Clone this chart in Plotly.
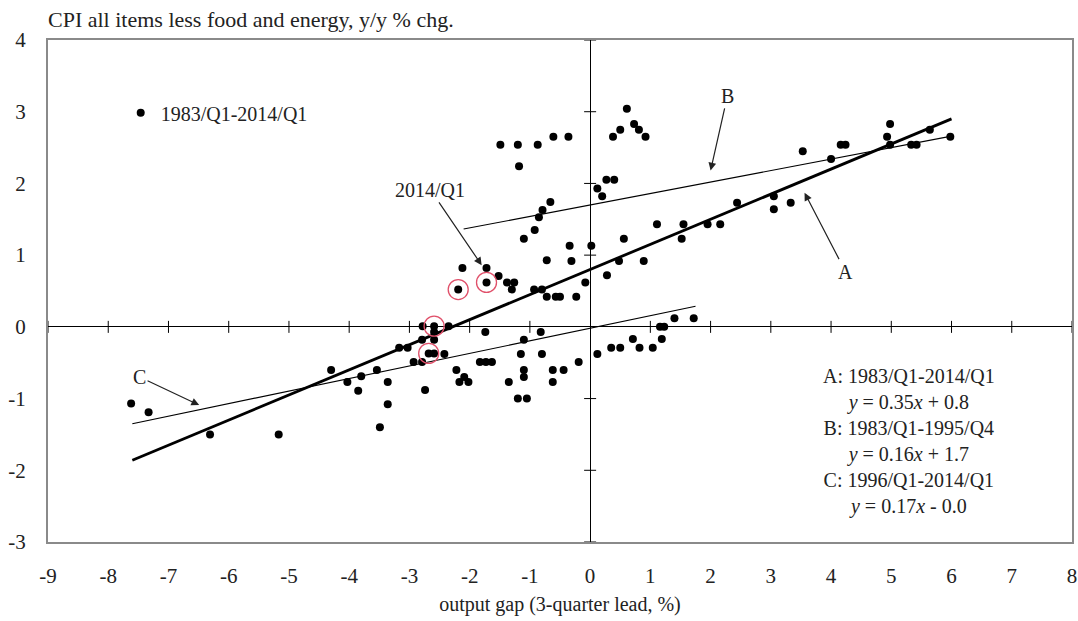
import plotly.graph_objects as go

# ---- data ----
gap = [-0.36, 0.61, 0.50, 0.38, 0.73, 0.81, 0.92, 0.27, 0.40, 0.12, 0.20,
       -0.34, -0.31, 0.02, -0.50, -0.23, -0.08, 0.28, 0.48, 0.56, 0.89, 1.11,
       1.52, 1.55, 1.95, 2.16, 2.44, 3.05, 3.05, 3.33, 3.53, 4.00, 4.16, 4.24,
       4.93, 4.98, 4.98, 5.33, 5.42, 5.64, 5.98,
       1.40, 1.72, 1.16, 1.23, 0.71, 1.19, 0.12, 0.35, 0.50, 0.82, 1.04,
       -1.49, -1.20, -0.87, -0.61, -1.18, -0.66, -0.79, -0.85, -0.92, -1.10, -0.72,
       -2.12, -1.72, -1.52, -1.38, -1.26, -1.72, -1.30, -2.19, -0.93, -0.80, -0.72, -0.57,
       -2.78, -2.59, -2.35, -2.59, -2.79, -2.59, -3.17, -3.03, -2.68, -2.59, -2.42,
       -2.93, -2.79, -3.54, -3.36, -3.36, -2.74, -2.22, -2.17, -2.09, -2.02, -1.83,
       -1.73, -1.63, -1.74, -1.35, -1.15, -1.10, -1.10, -1.10, -1.20, -1.05, -0.82,
       -0.80, -0.62, -0.62, -0.44, -0.19,
       -7.62, -7.33, -6.31, -5.17, -4.30, -4.03, -3.85, -3.80, -3.49]
cpi = [2.65, 3.04, 2.75, 2.65, 2.83, 2.75, 2.65, 2.05, 2.05, 1.93, 1.82,
       1.13, 0.92, 1.13, 0.42, 0.42, 0.62, 0.72, 0.92, 1.23, 0.92, 1.43,
       1.23, 1.43, 1.43, 1.43, 1.73, 1.82, 1.64, 1.73, 2.45, 2.34, 2.54, 2.54,
       2.65, 2.83, 2.54, 2.54, 2.54, 2.75, 2.65,
       0.12, 0.12, 0.00, 0.00, -0.17, -0.17, -0.38, -0.29, -0.29, -0.29, -0.29,
       2.54, 2.54, 2.54, 2.65, 2.24, 1.74, 1.63, 1.53, 1.35, 1.23, 0.93,
       0.82, 0.82, 0.71, 0.62, 0.62, 0.62, 0.52, 0.52, 0.52, 0.52, 0.42, 0.42,
       0.01, 0.01, 0.01, -0.07, -0.18, -0.18, -0.29, -0.29, -0.37, -0.37, -0.38,
       -0.49, -0.49, -0.60, -0.77, -1.08, -0.88, -0.60, -0.77, -0.70, -0.77, -0.49,
       -0.49, -0.49, -0.07, -0.77, -0.38, -0.18, -0.60, -0.70, -1.00, -1.00, -0.07,
       -0.38, -0.60, -0.77, -0.60, -0.49,
       -1.07, -1.19, -1.50, -1.50, -0.60, -0.77, -0.89, -0.69, -1.40]

# recent observations marked with red circles
recent_gap = [-2.19, -1.72, -2.59, -2.68]
recent_cpi = [0.52, 0.62, 0.01, -0.37]

# regression lines: name, slope, intercept, x-start, x-end
fit_names = ["A", "B", "C"]
fit_slope = [0.35, 0.16, 0.175]
fit_icpt = [0.80, 1.70, -0.02]
fit_x0 = [-7.6, -2.1, -7.6]
fit_x1 = [6.0, 6.0, 1.75]
fit_width = [2.8, 1.1, 1.1]

x_ticks = list(range(-9, 9))
x_tick_labels = [str(v) for v in x_ticks]
y_ticks = list(range(-3, 5))
y_tick_labels = [str(v) for v in y_ticks]

FONT = "Liberation Serif, Times New Roman, serif"
TXT = "#222222"

fig = go.Figure()

fig.add_trace(go.Scatter(
    x=gap, y=cpi, mode="markers", name="1983/Q1-2014/Q1",
    marker=dict(color="black", size=8), showlegend=True))

for n, s, b, x0, x1, w in zip(fit_names, fit_slope, fit_icpt, fit_x0, fit_x1, fit_width):
    fig.add_trace(go.Scatter(
        x=[x0, x1], y=[s * x0 + b, s * x1 + b], mode="lines",
        line=dict(color="black", width=w), showlegend=False, name=n,
        hoverinfo="skip"))

fig.add_trace(go.Scatter(
    x=recent_gap, y=recent_cpi, mode="markers", showlegend=False,
    marker=dict(symbol="circle-open", size=20, color="#e0506a",
                line=dict(width=1.3, color="#e0506a")),
    hoverinfo="skip"))

# tick marks on the zero axes
shapes = []
for t in x_ticks:
    if t == 0:
        continue
    shapes.append(dict(type="line", xref="x", yref="y", x0=t, x1=t,
                       ysizemode="pixel", yanchor=0, y0=-6, y1=6,
                       line=dict(color="black", width=1)))
for t in y_ticks:
    if t == 0:
        continue
    shapes.append(dict(type="line", xref="x", yref="y", y0=t, y1=t,
                       xsizemode="pixel", xanchor=0, x0=-6, x1=6,
                       line=dict(color="black", width=1)))

annotations = [
    dict(text="CPI all items less food and energy, y/y % chg.",
         xref="paper", yref="paper", x=0, y=1.0, xanchor="left", yanchor="bottom",
         xshift=-2, yshift=6, showarrow=False, font=dict(family=FONT, size=22, color=TXT)),
    dict(text="B", x=2.0, y=2.18, ax=2.28, ay=3.22, axref="x", ayref="y",
         showarrow=True, arrowhead=2, arrowsize=1.3, arrowwidth=1.2, arrowcolor="#222",
         font=dict(family=FONT, size=20, color=TXT)),
    dict(text="A", x=3.56, y=1.87, ax=4.24, ay=0.77, axref="x", ayref="y",
         showarrow=True, arrowhead=2, arrowsize=1.3, arrowwidth=1.2, arrowcolor="#222",
         font=dict(family=FONT, size=20, color=TXT)),
    dict(text="2014/Q1", x=-1.80, y=0.86, ax=-2.65, ay=1.91, axref="x", ayref="y",
         showarrow=True, arrowhead=2, arrowsize=1.3, arrowwidth=1.2, arrowcolor="#222",
         font=dict(family=FONT, size=20, color=TXT)),
    dict(text="C", x=-6.49, y=-1.09, ax=-7.48, ay=-0.70, axref="x", ayref="y",
         showarrow=True, arrowhead=2, arrowsize=1.3, arrowwidth=1.2, arrowcolor="#222",
         font=dict(family=FONT, size=20, color=TXT)),
    dict(text=("A: 1983/Q1-2014/Q1<br><i>y</i> = 0.35<i>x</i> + 0.8<br>"
               "B: 1983/Q1-1995/Q4<br><i>y</i> = 0.16<i>x</i> + 1.7<br>"
               "C: 1996/Q1-2014/Q1<br><i>y</i> = 0.17<i>x</i> - 0.0"),
         x=5.3, y=-1.6, xref="x", yref="y", showarrow=False, align="center",
         font=dict(family=FONT, size=20, color=TXT)),
]

fig.update_layout(
    width=1078, height=621,
    margin=dict(l=48, r=6, t=40, b=79, autoexpand=False),
    paper_bgcolor="white", plot_bgcolor="white",
    font=dict(family=FONT, size=20, color=TXT),
    showlegend=True,
    legend=dict(x=0.071, y=0.855, xanchor="left", yanchor="middle",
                bgcolor="rgba(0,0,0,0)", font=dict(family=FONT, size=20, color=TXT),
                itemwidth=30),
    shapes=shapes,
    annotations=annotations,
    xaxis=dict(range=[-9, 8], tickmode="array", tickvals=x_ticks, ticktext=x_tick_labels,
               ticks="", showgrid=False, automargin=False,
               zeroline=True, zerolinecolor="black", zerolinewidth=1,
               showline=True, linecolor="#8a8a8a", linewidth=2, mirror=True,
               ticklabelstandoff=14,
               title=dict(text="output gap (3-quarter lead, %)", standoff=10,
                          font=dict(family=FONT, size=20, color=TXT)),
               tickfont=dict(family=FONT, size=21, color=TXT)),
    yaxis=dict(range=[-3, 4], tickmode="array", tickvals=y_ticks, ticktext=y_tick_labels,
               ticks="", showgrid=False, automargin=False,
               zeroline=True, zerolinecolor="black", zerolinewidth=1,
               showline=True, linecolor="#8a8a8a", linewidth=2, mirror=True,
               ticklabelstandoff=16,
               tickfont=dict(family=FONT, size=21, color=TXT)),
)

fig.write_html("out.html", config={"displayModeBar": False},
               post_script="document.body.style.margin='0';document.body.style.overflow='hidden';")
